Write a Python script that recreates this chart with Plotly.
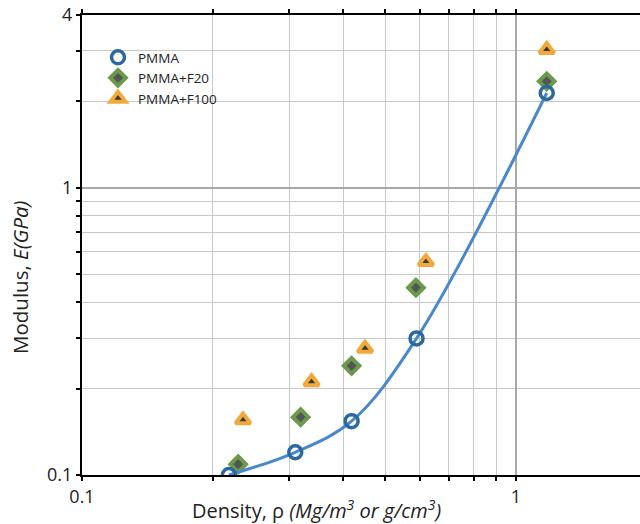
import plotly.graph_objects as go

# Data
pmma_x = [0.218, 0.310, 0.418, 0.590, 1.177]
pmma_y = [0.100, 0.120, 0.154, 0.299, 2.14]

f20_x = [0.229, 0.319, 0.418, 0.588, 1.177]
f20_y = [0.109, 0.159, 0.240, 0.449, 2.35]

f100_x = [0.235, 0.338, 0.449, 0.620, 1.177]
f100_y = [0.1555, 0.211, 0.276, 0.553, 3.03]

x_major = [0.1, 1]
x_major_text = ["0.1", "1"]
x_minor = [0.2, 0.3, 0.4, 0.5, 0.6, 0.7, 0.8, 0.9]
y_major = [0.1, 1, 4]
y_major_text = ["0.1", "1", "4"]
y_minor = [0.2, 0.3, 0.4, 0.5, 0.6, 0.7, 0.8, 0.9, 2, 3]

FONT = "Open Sans"
TXT = "#222222"

W, H = 640, 524
ML, MT, MB = 82, 15, 49
PW, PH = W - ML, H - MT - MB


def px(xp):
    return (xp - ML) / PW


def py(yp):
    return (H - MB - yp) / PH


fig = go.Figure()

fig.add_trace(go.Scatter(
    x=f100_x, y=f100_y, mode="markers", name="PMMA+F100", legendrank=3,
    marker=dict(symbol="triangle-up", size=13, color="#3a3a3a",
                line=dict(color="#f2a93b", width=4)),
))
fig.add_trace(go.Scatter(
    x=f20_x, y=f20_y, mode="markers", name="PMMA+F20", legendrank=2,
    marker=dict(symbol="diamond", size=12, color="#555555",
                line=dict(color="#6a9a4c", width=4)),
))
fig.add_trace(go.Scatter(
    x=pmma_x, y=pmma_y, mode="lines", line=dict(color="#4a88cc", width=3, shape="spline"),
    showlegend=False, hoverinfo="skip",
))
fig.add_trace(go.Scatter(
    x=pmma_x, y=pmma_y, mode="markers", name="PMMA", legendrank=1,
    marker=dict(symbol="circle-open", size=13, color="#2c68a0",
                line=dict(color="#2c68a0", width=3.5)),
))

axis_common = dict(
    type="log", showline=True, linecolor="black", linewidth=2,
    ticks="outside", ticklen=4, tickcolor="black", tickwidth=1.5,
    tickmode="array", showgrid=True, gridcolor="#a8a8a8", gridwidth=1.5,
    tickfont=dict(family=FONT, size=18, color=TXT),
    zeroline=False,
)

fig.update_xaxes(
    **axis_common, range=[-1, -1 + PW / 434.0], mirror="ticks",
    tickvals=x_major, ticktext=x_major_text,
    minor=dict(tickmode="array", tickvals=x_minor, ticks="outside", ticklen=4,
               tickcolor="black", showgrid=True, gridcolor="#c8c8c8", gridwidth=1),
)
fig.update_yaxes(
    **axis_common, range=[-1, 0.60206],
    tickvals=y_major, ticktext=y_major_text,
    minor=dict(tickmode="array", tickvals=y_minor, ticks="outside", ticklen=4,
               tickcolor="black", showgrid=True, gridcolor="#c8c8c8", gridwidth=1),
)

fig.add_annotation(
    xref="paper", yref="paper", x=px(316), y=py(509),
    text="Density, ρ <i>(Mg/m<sup>3</sup> or g/cm<sup>3</sup>)</i>",
    showarrow=False, font=dict(family=FONT, size=20, color=TXT),
    xanchor="center", yanchor="middle",
)
fig.add_annotation(
    xref="paper", yref="paper", x=px(20), y=py(277),
    text="Modulus, <i>E(GPa)</i>", textangle=-90,
    showarrow=False, font=dict(family=FONT, size=20.5, color=TXT),
    xanchor="center", yanchor="middle",
)

fig.update_layout(
    width=W, height=H,
    margin=dict(l=ML, r=0, t=MT, b=MB),
    paper_bgcolor="white", plot_bgcolor="white",
    showlegend=True,
    legend=dict(x=px(98), y=py(42), xanchor="left", yanchor="top",
                bgcolor="rgba(0,0,0,0)", font=dict(family=FONT, size=13.5, color=TXT),
                tracegroupgap=0),
)

fig.write_html(
    "out.html",
    config={"displayModeBar": False},
    post_script="document.body.style.margin='0';document.body.style.overflow='hidden';",
)
